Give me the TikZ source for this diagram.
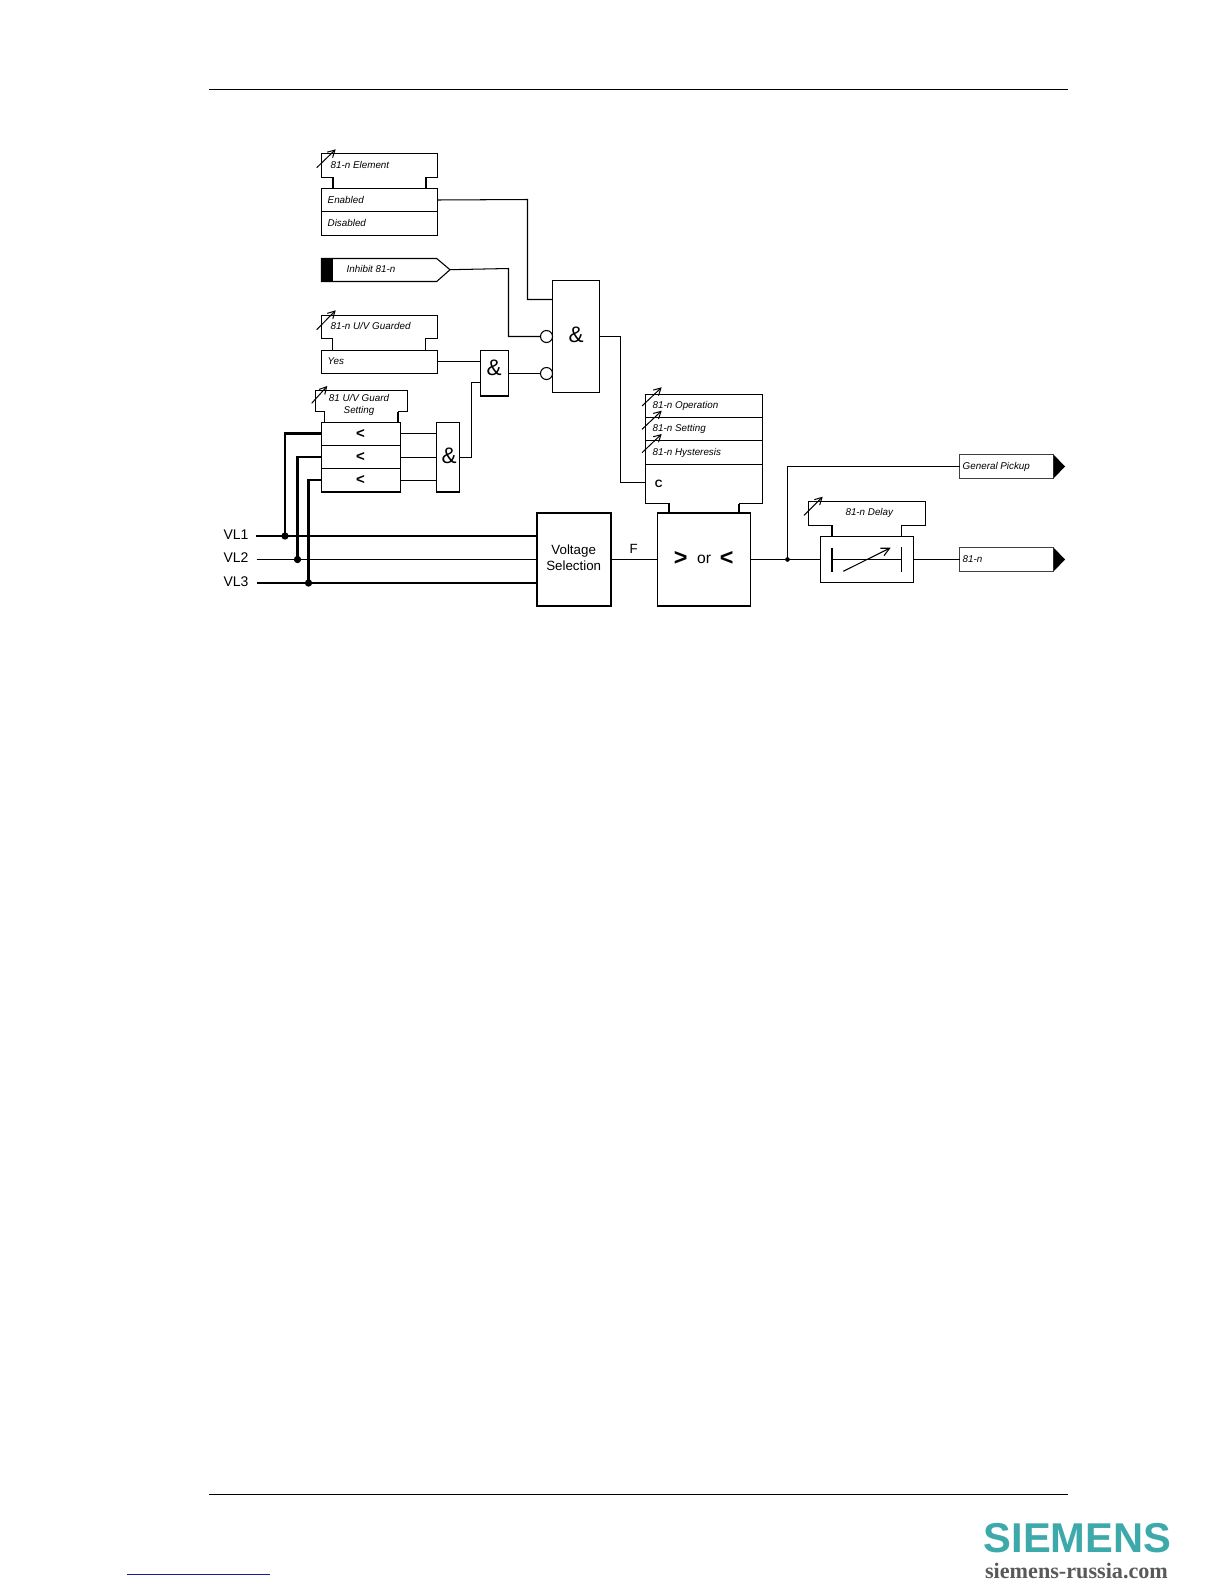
\documentclass[tikz,border=0pt]{standalone}
\usepackage{fontspec}
\setmainfont{Liberation Sans}
\newfontfamily\urlfont{Liberation Serif}
\usetikzlibrary{arrows.meta}
\definecolor{siemensteal}{HTML}{3DA9AA}
\definecolor{linkblue}{HTML}{1A1A9C}
\newcommand{\bx}[6][]{%
  \pgfmathsetmacro{\bxw}{(#5-#3)*0.6}\pgfmathsetmacro{\bxh}{(#6-#4)*0.6}%
  \pgfmathsetmacro{\bxcx}{(#3+#5)/2}\pgfmathsetmacro{\bxcy}{(#4+#6)/2}%
  \node[boxs,minimum width=\bxw pt,minimum height=\bxh pt,#1] (#2) at (\bxcx,\bxcy) {};}
\tikzset{
  boxs/.style={draw,rectangle,inner sep=0pt,outer sep=0pt,line width=0.65pt},
  wire/.style={line width=0.62pt,line join=miter},
  bus/.style={line width=1.4pt},
  leg/.style={line width=0.7pt},
  legb/.style={line width=1.3pt},
  setarrow/.style={line width=0.6pt,-{Straight Barb[length=4.2pt,width=4.6pt]}},
  lab/.style={inner sep=0pt,outer sep=0pt,anchor=west,text height=4.2pt,text depth=0pt,font=\fontsize{5.9}{7}\selectfont\itshape},
  clab/.style={lab,anchor=center},
  amp/.style={inner sep=0pt,font=\fontsize{13.5}{15}\selectfont},
  mid/.style={inner sep=0pt,font=\fontsize{8}{9}\selectfont},
  vl/.style={inner sep=0pt,font=\fontsize{8.4}{9}\selectfont},
  lt/.style={inner sep=0pt,font=\fontsize{9}{10}\selectfont\bfseries},
  dot/.style={circle,fill=black,inner sep=0pt,minimum size=4.4pt},
  smalldot/.style={circle,fill=black,inner sep=0pt,minimum size=2.8pt},
  neg/.style={circle,draw,fill=white,inner sep=0pt,minimum size=7.2pt,line width=0.65pt}
}
\begin{document}
\begin{tikzpicture}[x=0.6pt,y=-0.6pt]
\useasboundingbox (0,0) rectangle (1224,1584);
% page rules
\coordinate (hl) at (209,89.5); \coordinate (hr) at (1068,89.5);
\coordinate (fl) at (209,1494.5); \coordinate (fr) at (1068,1494.5);
\draw[line width=0.6pt] (hl) -- (hr);
\draw[line width=0.6pt] (fl) -- (fr);
\coordinate (ll) at (127,1574.5); \coordinate (lr) at (270,1574.5);
\draw[linkblue,line width=0.6pt] (ll) -- (lr);
\node[inner sep=0pt,text=siemensteal] (logo) at (1077.5,1538) {\fontsize{25}{27}\selectfont\bfseries SIEMENS};
\node[inner sep=0pt,text=black!65] (logourl) at (1076.5,1570.5) {\urlfont\fontsize{13.3}{15}\selectfont\bfseries siemens-russia.com};

% 81-n Element
\bx{elemh}{321.5}{153.5}{437.5}{177.5}
\bx{enabled}{321.5}{188.5}{437.5}{211.5}
\bx{disabled}{321.5}{211.5}{437.5}{235.5}
\fill[white] (333.5,176.5) rectangle (425.5,178.5);
\draw[legb] (333,177) -- (333,188.5);
\draw[legb] (426,177) -- (426,188.5);
\node[lab] (telem) at (330.7,164.7) {81-n Element};
\node[lab] (tena) at (327.7,199.7) {Enabled};
\node[lab] (tdis) at (327.7,222.7) {Disabled};
\draw[setarrow] (316.7,167.7) -- (335.7,149.3);

% Inhibit
\coordinate (inhtip) at (450,269.7);
\draw[line width=0.65pt] (321.5,258.5) -- (436.7,258.5) -- (inhtip) -- (436.7,281.5) -- (321.5,281.5) -- cycle;
\fill (321.5,258.5) rectangle (333,281.5);
\node[lab] (tinh) at (346.7,268.7) {Inhibit 81-n};

% 81-n U/V Guarded
\bx{guardh}{321.5}{315.5}{437.5}{338.5}
\bx{yesb}{321.5}{350.5}{437.5}{373.5}
\fill[white] (333.2,337.5) rectangle (425.2,339.5);
\draw[leg] (332.7,338.5) -- (332.7,350.5);
\draw[leg] (425.7,338.5) -- (425.7,350.5);
\node[lab] (tguard) at (330.7,325.7) {81-n U/V Guarded};
\node[lab] (tyes) at (327.7,360.7) {Yes};
\draw[setarrow] (316.7,329.7) -- (335.7,310.3);

% 81 U/V Guard Setting
\bx{ugh}{315.5}{390.5}{407.5}{411.5}
\bx{lt1}{321.5}{422.5}{400.5}{445.5}
\bx{lt2}{321.5}{445.5}{400.5}{468.5}
\bx{lt3}{321.5}{468.5}{400.5}{492}
\draw[line width=1.1pt] (321.5,492) -- (400.5,492);
\fill[white] (325.2,410.5) rectangle (397.5,412.5);
\draw[leg] (324.7,411.5) -- (324.7,422.5);
\draw[legb] (398,411.5) -- (398,422.5);
\node[clab] (tug1) at (359,397.7) {81 U/V Guard};
\node[clab] (tug2) at (359,410) {Setting};
\draw[setarrow] (311.7,403.3) -- (327.3,386);
\node[lt] (lta) at (360.5,433.5) {<};
\node[lt] (ltb) at (360.5,456.5) {<};
\node[lt] (ltc) at (360.5,479.5) {<};

% AND gates
\bx{andb}{552.5}{280.5}{599.5}{392.5}
\node[amp] (tandb) at (576,335) {\&};
\bx{andm}{480.5}{350.5}{508.5}{396}
\node[amp] (tandm) at (494,368) {\&};
\bx{ands}{436.5}{422.5}{459.5}{492}
\draw[line width=1.1pt] (436.5,492) -- (459.5,492);
\node[amp] (tands) at (449,456) {\&};
\node[neg] (n1) at (546.5,336.5) {};
\node[neg] (n2) at (546.5,373.5) {};

% wires to gates
\coordinate (e1) at (527.5,199.5);
\coordinate (a1) at (552.5,299.5);
\draw[wire] (enabled.east) -- (e1) |- (a1);
\coordinate (i1) at (508.5,268.5);
\draw[wire] (inhtip) -- (i1) |- (n1.west);
\draw[wire] (n2.west) -- (andm.east |- n2.west);
\coordinate (ym) at (480.5,361.5);
\coordinate (yo) at (437.5,361.5);
\draw[wire] (yo) -- (ym);
\coordinate (s1) at (471.5,457.5);
\coordinate (s2) at (480.5,382.5);
\coordinate (s0) at (459.5,457.5);
\draw[wire] (s0) -- (s1) |- (s2);
\coordinate (o1) at (400.5,433.5); \coordinate (i1b) at (436.5,433.5);
\coordinate (o2) at (400.5,457.5); \coordinate (i2b) at (436.5,457.5);
\coordinate (o3) at (400.5,480.5); \coordinate (i3b) at (436.5,480.5);
\draw[wire] (o1) -- (i1b);
\draw[wire] (o2) -- (i2b);
\draw[wire] (o3) -- (i3b);

% Buses
\node[vl] (tvl1) at (236,535) {VL1};
\node[vl] (tvl2) at (236,558) {VL2};
\node[vl] (tvl3) at (236,582) {VL3};
\bx[line width=1.1pt]{volt}{536.7}{512.7}{611}{606}
\node[mid] (tvolt1) at (573.7,551) {Voltage};
\node[mid] (tvolt2) at (573.7,566) {Selection};
\coordinate (v1) at (255.5,536);
\coordinate (v2) at (256.7,559.5);
\coordinate (v3) at (256.7,583);
\draw[bus] (v1) -- (volt.west |- v1);
\draw[wire] (v2) -- (volt.west |- v2);
\draw[bus] (v3) -- (volt.west |- v3);
\node[dot] (d1) at (285,536) {};
\node[dot] (d2) at (297.5,559.5) {};
\node[dot] (d3) at (308.5,583) {};
\coordinate (t1) at (321.5,433.5);
\coordinate (t2) at (321.5,457);
\coordinate (t3) at (321.5,480);
\draw[bus] (d1.center) |- (t1);
\draw[bus] (d2.center) |- (t2);
\draw[bus] (d3.center) |- (t3);

% Settings block
\bx{so}{645.5}{394.5}{762.5}{417.5}
\bx{ss}{645.5}{417.5}{762.5}{440.5}
\bx{sh}{645.5}{440.5}{762.5}{464.5}
\bx{sc}{645.5}{464.5}{762.5}{503.5}
\fill[white] (669.5,502.5) rectangle (738.5,504.5);
\node[lab] (tso) at (652.7,405) {81-n Operation};
\node[lab] (tss) at (652.7,428) {81-n Setting};
\node[lab] (tsh) at (652.7,451.7) {81-n Hysteresis};
\node[inner sep=0pt,font=\fontsize{6.4}{7}\selectfont\bfseries] (tc) at (658.7,483.5) {C};
\draw[setarrow] (642,406) -- (661.7,387.3);
\draw[setarrow] (642,429.3) -- (661.7,410.7);
\draw[setarrow] (642,452.7) -- (661.7,434);
\coordinate (c1) at (620.5,336.5);
\coordinate (c0) at (599.5,336.5);
\coordinate (c2) at (645.5,482.5);
\draw[wire] (c0) -- (c1) |- (c2);

% > or <
\bx[line width=1.1pt]{cmp}{657.5}{512.7}{750.5}{606}
\draw[legb] (669,503.5) -- (669,512.7);
\draw[legb] (739,503.5) -- (739,512.7);
\node[inner sep=0pt,font=\fontsize{14}{15}\selectfont\bfseries] (tgt) at (680.7,558) {>};
\node[inner sep=0pt,font=\fontsize{9.4}{10}\selectfont] (tor) at (704,559.5) {or};
\node[inner sep=0pt,font=\fontsize{14}{15}\selectfont\bfseries] (tls) at (726.7,558) {<};
\node[inner sep=0pt,font=\fontsize{8}{9}\selectfont] (tf) at (633.7,549) {F};
\draw[wire] (volt.east |- v2) -- (cmp.west |- v2);

% Delay
\bx{dlh}{808.5}{501.5}{925.5}{525.5}
\bx{dl}{820.5}{536.5}{913.5}{582.5}
\fill[white] (832.5,524.5) rectangle (901.2,526.5);
\draw[leg] (832,525.5) -- (832,536.5);
\draw[leg] (901.7,525.5) -- (901.7,536.5);
\node[clab] (tdl) at (869.3,511.7) {81-n Delay};
\draw[setarrow] (804,515.3) -- (822.7,496.7);
\coordinate (bar1a) at (832,547.7); \coordinate (bar1b) at (832,571.7);
\coordinate (bar2a) at (901.5,546.7); \coordinate (bar2b) at (901.5,571.7);
\draw[line width=1.2pt] (bar1a) -- (bar1b);
\draw[wire] (bar2a) -- (bar2b);
\coordinate (bm1) at (832,559.5); \coordinate (bm2) at (901.5,559.5);
\draw[wire] (bm1) -- (bm2);
\coordinate (da) at (843.3,571.3); \coordinate (db) at (890.7,547.7);
\draw[line width=0.65pt,-{Straight Barb[length=5pt,width=5pt]}] (da) -- (db);

% Outputs
\bx[draw=black!75]{gp}{959.5}{454.5}{1053.5}{478.5}
\coordinate (gptip) at (1065,466.5);
\fill (gp.north east) -- (gptip) -- (gp.south east) -- cycle;
\node[lab] (tgp) at (962.7,465.7) {General Pickup};
\bx[draw=black!75]{out}{959.5}{547.5}{1053.5}{571.5}
\coordinate (outtip) at (1065,559.5);
\fill (out.north east) -- (outtip) -- (out.south east) -- cycle;
\node[lab] (tout) at (962.7,559) {81-n};
\node[smalldot] (j) at (787.5,559.5) {};
\draw[wire] (cmp.east |- j) -- (j.center) -- (dl.west);
\draw[wire] (j.center) |- (gp.west);
\draw[wire] (dl.east) -- (out.west);
\end{tikzpicture}
\end{document}
